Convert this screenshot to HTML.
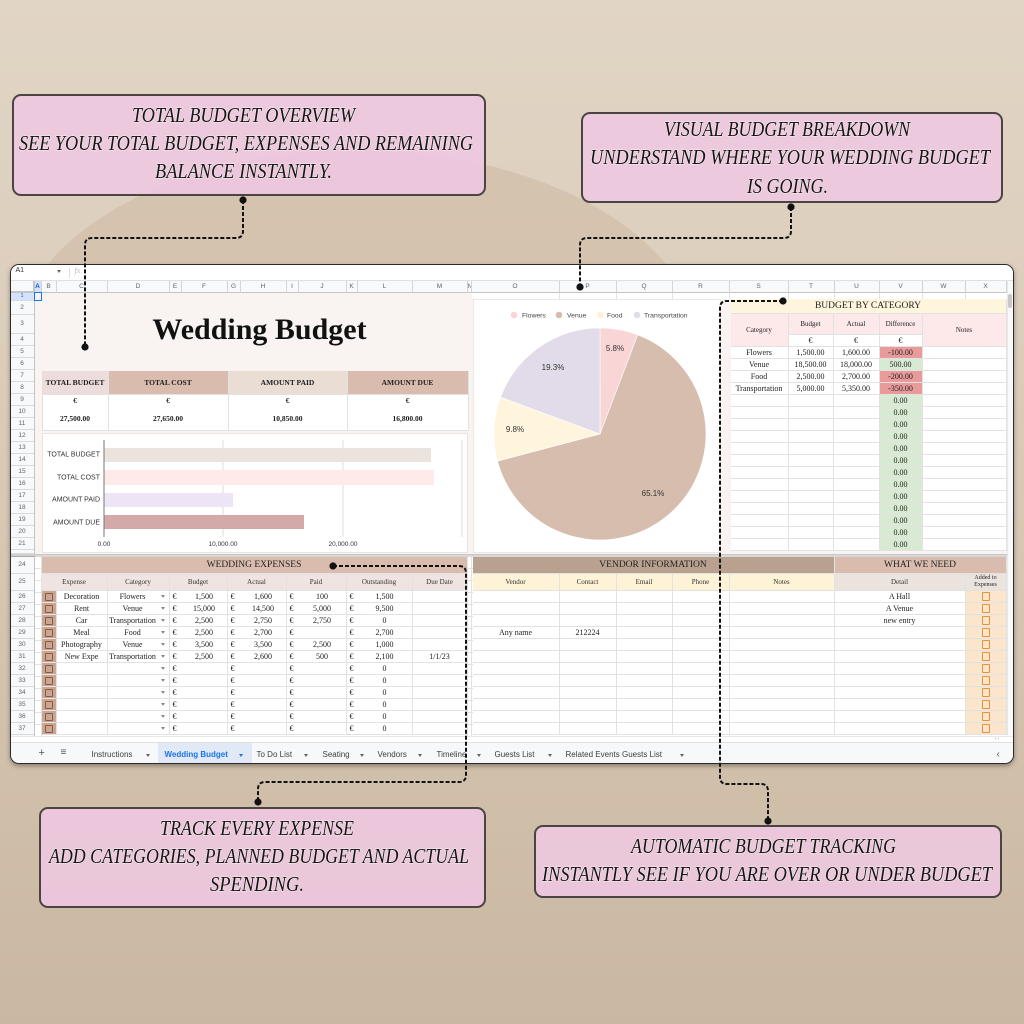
<!DOCTYPE html>
<html><head><meta charset="utf-8">
<style>
*{box-sizing:border-box;margin:0;padding:0}
html,body{width:1024px;height:1024px;overflow:hidden}
body{position:relative;background:linear-gradient(180deg,#e1d5c5 0%,#dccdbb 35%,#d2c1ac 70%,#c9b7a1 100%);font-family:"Liberation Sans",sans-serif}
.arch{position:absolute;left:12px;top:150px;width:690px;height:620px;border-radius:345px 345px 0 0/205px 205px 0 0;background:linear-gradient(180deg,rgba(170,135,100,.20),rgba(170,135,100,.12) 40%,rgba(170,135,100,0) 97%)}
.sheet{position:absolute;left:10px;top:264px;width:1004px;height:500px;border:1.5px solid #2d2a2a;border-radius:9px;overflow:hidden;background:#fff;box-shadow:0 2px 5px rgba(0,0,0,.35)}
.in{position:absolute;left:-11.5px;top:-265.5px;width:1024px;height:1024px}
.a{position:absolute}
.colh{position:absolute;left:35px;top:281px;height:12px;display:flex;background:#f8f9fa;border-bottom:1px solid #c4c4c4}
.colh div{height:12px;border-right:1px solid #d4d4d4;font-size:6.5px;line-height:12px;text-align:center;color:#5f6368;overflow:hidden}
.rowh{position:absolute;left:11px;top:293px;width:24px;display:flex;flex-direction:column;background:#f8f9fa;border-right:1px solid #c4c4c4}
.rowh div{height:12px;border-bottom:1px solid #dadada;font-size:6.5px;line-height:11px;text-align:center;color:#5f6368;overflow:hidden;flex:none}
.g{position:absolute;display:grid}
.g>div{border-right:1px solid #e2e2e2;border-bottom:1px solid #e2e2e2;font:8px/11px "Liberation Serif",serif;color:#222;text-align:center;white-space:nowrap;overflow:hidden;position:relative}
.g>div.eu{text-align:left;padding-left:3px;border-right:none}
.g>div.t{font-size:9.5px;line-height:16px;color:#222}
.g>div.h{font-size:7px;line-height:16px;color:#333}
.sv span{position:absolute;left:0;right:0;text-align:center;font-weight:bold;font-size:7.5px;line-height:11px}
.ck{background:#c9a592}
.ck i{position:absolute;left:3px;top:2px;width:8px;height:8px;border:1.5px solid #8a5a46;border-radius:1px}
.oc{background:#fce5cd}
.oc i{position:absolute;left:16px;top:1.5px;width:8.5px;height:8.5px;border:1.5px solid #e69138;border-radius:1px}
.dd{padding-right:11px}
.dd b{position:absolute;right:4px;top:4.5px;width:0;height:0;border-left:2.5px solid transparent;border-right:2.5px solid transparent;border-top:3px solid #8a8a8a}
.red{background:#e99a9a}
.grn{background:#d9ead3}
.tab{position:absolute;top:750px;font-size:8px;color:#3c4043;line-height:10px;white-space:nowrap}
.tri{position:absolute;top:754px;width:0;height:0;border-left:2.5px solid transparent;border-right:2.5px solid transparent;border-top:3px solid #5f6368}
</style></head><body>
<div class="arch"></div>

<div class="sheet"><div class="in">
  <div class="a" style="left:11px;top:265px;width:1002px;height:16px;background:#fff;border-bottom:1px solid #e0e0e0"></div>
  <div class="a" style="left:16px;top:267px;font-size:7px;color:#333">A1</div>
  <div class="a" style="left:57px;top:270px;width:0;height:0;border-left:2.5px solid transparent;border-right:2.5px solid transparent;border-top:3px solid #666"></div>
  <div class="a" style="left:69px;top:268px;width:1px;height:10px;background:#ddd"></div>
  <div class="a" style="left:75px;top:266px;font:italic 8px 'Liberation Serif',serif;color:#bbb">fx</div>

  <div class="a" style="left:11px;top:281px;width:24px;height:12px;background:#f8f9fa;border-right:2px solid #c4c4c4;border-bottom:2px solid #c4c4c4"></div>
  <div class="colh">
    <div style="width:7px;background:#d3e3fd;color:#0b57d0;font-weight:bold">A</div><div style="width:15px">B</div><div style="width:51px">C</div><div style="width:62px">D</div><div style="width:12px">E</div><div style="width:46px">F</div><div style="width:13px">G</div><div style="width:46px">H</div><div style="width:12px">I</div><div style="width:48px">J</div><div style="width:11px">K</div><div style="width:55px">L</div><div style="width:55px">M</div><div style="width:4px">N</div><div style="width:88px">O</div><div style="width:57px">P</div><div style="width:56px">Q</div><div style="width:57px">R</div><div style="width:59px">S</div><div style="width:46px">T</div><div style="width:45px">U</div><div style="width:43px">V</div><div style="width:43px">W</div><div style="width:41px">X</div>
  </div>
  <div class="rowh">
    <div style="height:8px;background:#d3e3fd;font-size:5px;line-height:7px;color:#0b57d0">1</div>
    <div style="height:14px;line-height:13px">2</div>
    <div style="height:19px;line-height:18px">3</div>
    <div>4</div><div>5</div><div>6</div><div>7</div><div>8</div><div>9</div><div>10</div><div>11</div><div>12</div><div>13</div><div>14</div><div>15</div><div>16</div><div>17</div><div>18</div><div>19</div><div>20</div><div>21</div>
    <div style="height:4px;font-size:0"></div>
    <div style="height:3px;background:#d0d0d0;border-bottom:1px solid #aaa"></div>
    <div style="height:17px;line-height:16px">24</div>
    <div style="height:17px;line-height:16px">25</div>
    <div>26</div><div>27</div><div>28</div><div>29</div><div>30</div><div>31</div><div>32</div><div>33</div><div>34</div><div>35</div><div>36</div><div>37</div><div>38</div>
  </div>

  <div class="a" style="left:35px;top:293px;width:972px;height:443px;background:repeating-linear-gradient(to bottom,transparent 0 11px,#e2e2e2 11px 12px)"></div>
  <div class="a" style="left:41px;top:293px;width:1px;height:443px;background:#e2e2e2"></div>
  <div class="a" style="left:467px;top:293px;width:1px;height:443px;background:#e2e2e2"></div>
  <div class="a" style="left:471px;top:293px;width:1px;height:443px;background:#e2e2e2"></div>
  <div class="a" style="left:559px;top:293px;width:1px;height:8px;background:#e2e2e2"></div>
  <div class="a" style="left:616px;top:293px;width:1px;height:8px;background:#e2e2e2"></div>
  <div class="a" style="left:672px;top:293px;width:1px;height:8px;background:#e2e2e2"></div>
  <div class="a" style="left:729px;top:293px;width:1px;height:8px;background:#e2e2e2"></div>
  <div class="a" style="left:788px;top:293px;width:1px;height:8px;background:#e2e2e2"></div>
  <div class="a" style="left:834px;top:293px;width:1px;height:8px;background:#e2e2e2"></div>
  <div class="a" style="left:879px;top:293px;width:1px;height:8px;background:#e2e2e2"></div>
  <div class="a" style="left:922px;top:293px;width:1px;height:8px;background:#e2e2e2"></div>
  <div class="a" style="left:965px;top:293px;width:1px;height:8px;background:#e2e2e2"></div>

  <div class="a" style="left:35px;top:293px;width:437px;height:262px;background:#f9f4f2"></div>
  <div class="a" style="left:472px;top:299px;width:535px;height:256px;background:#f9f4f2"></div>
  <div class="a" style="left:35px;top:554px;width:972px;height:3px;background:#d8d8d8;border-top:1px solid #c8c8c8"></div>

  <div class="a" style="left:34px;top:292px;width:8px;height:9px;border:1.5px solid #1a73e8"></div>

  <div class="a" style="left:60px;top:313px;width:400px;text-align:center;font:bold 30px/34px 'Liberation Serif',serif;color:#111">Wedding Budget</div>

  <div class="g sv" style="left:42px;top:371px;width:426px;grid-template-columns:66px 120px 119px 121px;grid-template-rows:24px 36px;border-left:1px solid #e6dedb">
    <div style="background:#ecdcdb;font-weight:bold;font-size:7.5px;line-height:23px">TOTAL BUDGET</div>
    <div style="background:#d9bcae;font-weight:bold;font-size:7.5px;line-height:23px">TOTAL COST</div>
    <div style="background:#e9ddd4;font-weight:bold;font-size:7.5px;line-height:23px">AMOUNT PAID</div>
    <div style="background:#d9bcae;font-weight:bold;font-size:7.5px;line-height:23px">AMOUNT DUE</div>
    <div style="background:#fff"><span style="top:0.5px">€</span><span style="top:18.5px">27,500.00</span></div>
    <div style="background:#fff"><span style="top:0.5px">€</span><span style="top:18.5px">27,650.00</span></div>
    <div style="background:#fff"><span style="top:0.5px">€</span><span style="top:18.5px">10,850.00</span></div>
    <div style="background:#fff"><span style="top:0.5px">€</span><span style="top:18.5px">16,800.00</span></div>
  </div>

  <div class="a" style="left:42px;top:433px;width:426px;height:120px;background:#fff;border:1px solid #ebe3df"></div>
  <div class="a" style="left:473px;top:299px;width:248px;height:254px;background:#fff;border:1px solid #eee6e2"></div>

  <div class="g" style="left:731px;top:299px;width:276px;grid-template-columns:58px 45px 46px 43px 84px;grid-template-rows:15px 21px 12px repeat(17,12px);background:#fff">
    <div class="t" style="grid-column:1/6;grid-row:1;background:#fff4dc;line-height:14px;font-size:9.5px">BUDGET BY CATEGORY</div>
    <div style="grid-column:1;grid-row:2/4;background:#fde9e9;font-size:7px;line-height:32px">Category</div>
    <div style="grid-column:2;grid-row:2;background:#fde9e9;font-size:7px;line-height:20px">Budget</div>
    <div style="grid-column:3;grid-row:2;background:#fde9e9;font-size:7px;line-height:20px">Actual</div>
    <div style="grid-column:4;grid-row:2;background:#fde9e9;font-size:7px;line-height:20px">Difference</div>
    <div style="grid-column:5;grid-row:2/4;background:#fde9e9;font-size:7px;line-height:32px">Notes</div>
    <div style="grid-column:2;grid-row:3">€</div>
    <div style="grid-column:3;grid-row:3">€</div>
    <div style="grid-column:4;grid-row:3">€</div>
    <div>Flowers</div><div>1,500.00</div><div>1,600.00</div><div class="red">-100.00</div><div></div>
    <div>Venue</div><div>18,500.00</div><div>18,000.00</div><div class="grn">500.00</div><div></div>
    <div>Food</div><div>2,500.00</div><div>2,700.00</div><div class="red">-200.00</div><div></div>
    <div>Transportation</div><div>5,000.00</div><div>5,350.00</div><div class="red">-350.00</div><div></div>
    <div></div><div></div><div></div><div class="grn">0.00</div><div></div>
    <div></div><div></div><div></div><div class="grn">0.00</div><div></div>
    <div></div><div></div><div></div><div class="grn">0.00</div><div></div>
    <div></div><div></div><div></div><div class="grn">0.00</div><div></div>
    <div></div><div></div><div></div><div class="grn">0.00</div><div></div>
    <div></div><div></div><div></div><div class="grn">0.00</div><div></div>
    <div></div><div></div><div></div><div class="grn">0.00</div><div></div>
    <div></div><div></div><div></div><div class="grn">0.00</div><div></div>
    <div></div><div></div><div></div><div class="grn">0.00</div><div></div>
    <div></div><div></div><div></div><div class="grn">0.00</div><div></div>
    <div></div><div></div><div></div><div class="grn">0.00</div><div></div>
    <div></div><div></div><div></div><div class="grn">0.00</div><div></div>
    <div></div><div></div><div></div><div class="grn">0.00</div><div></div>
  </div>

  <div class="g" style="left:42px;top:557px;width:426px;grid-template-columns:15px 51px 62px 12px 46px 13px 46px 12px 48px 11px 55px 55px;grid-template-rows:17px 17px repeat(12,12px);background:#fff">
    <div class="t" style="grid-column:1/13;background:#d9bcae">WEDDING EXPENSES</div>
    <div class="h" style="grid-column:1/3;background:#efe4e1">Expense</div>
    <div class="h" style="background:#efe4e1">Category</div>
    <div class="h" style="grid-column:4/6;background:#efe4e1">Budget</div>
    <div class="h" style="grid-column:6/8;background:#efe4e1">Actual</div>
    <div class="h" style="grid-column:8/10;background:#efe4e1">Paid</div>
    <div class="h" style="grid-column:10/12;background:#efe4e1">Outstanding</div>
    <div class="h" style="background:#efe4e1">Due Date</div>

    <div class="ck"><i></i></div><div>Decoration</div><div class="dd">Flowers<b></b></div><div class="eu">€</div><div>1,500</div><div class="eu">€</div><div>1,600</div><div class="eu">€</div><div>100</div><div class="eu">€</div><div>1,500</div><div></div>
    <div class="ck"><i></i></div><div>Rent</div><div class="dd">Venue<b></b></div><div class="eu">€</div><div>15,000</div><div class="eu">€</div><div>14,500</div><div class="eu">€</div><div>5,000</div><div class="eu">€</div><div>9,500</div><div></div>
    <div class="ck"><i></i></div><div>Car</div><div class="dd">Transportation<b></b></div><div class="eu">€</div><div>2,500</div><div class="eu">€</div><div>2,750</div><div class="eu">€</div><div>2,750</div><div class="eu">€</div><div>0</div><div></div>
    <div class="ck"><i></i></div><div>Meal</div><div class="dd">Food<b></b></div><div class="eu">€</div><div>2,500</div><div class="eu">€</div><div>2,700</div><div class="eu">€</div><div></div><div class="eu">€</div><div>2,700</div><div></div>
    <div class="ck"><i></i></div><div>Photography</div><div class="dd">Venue<b></b></div><div class="eu">€</div><div>3,500</div><div class="eu">€</div><div>3,500</div><div class="eu">€</div><div>2,500</div><div class="eu">€</div><div>1,000</div><div></div>
    <div class="ck"><i></i></div><div>New Expe</div><div class="dd">Transportation<b></b></div><div class="eu">€</div><div>2,500</div><div class="eu">€</div><div>2,600</div><div class="eu">€</div><div>500</div><div class="eu">€</div><div>2,100</div><div>1/1/23</div>
    <div class="ck"><i></i></div><div></div><div class="dd"><b></b></div><div class="eu">€</div><div></div><div class="eu">€</div><div></div><div class="eu">€</div><div></div><div class="eu">€</div><div>0</div><div></div>
    <div class="ck"><i></i></div><div></div><div class="dd"><b></b></div><div class="eu">€</div><div></div><div class="eu">€</div><div></div><div class="eu">€</div><div></div><div class="eu">€</div><div>0</div><div></div>
    <div class="ck"><i></i></div><div></div><div class="dd"><b></b></div><div class="eu">€</div><div></div><div class="eu">€</div><div></div><div class="eu">€</div><div></div><div class="eu">€</div><div>0</div><div></div>
    <div class="ck"><i></i></div><div></div><div class="dd"><b></b></div><div class="eu">€</div><div></div><div class="eu">€</div><div></div><div class="eu">€</div><div></div><div class="eu">€</div><div>0</div><div></div>
    <div class="ck"><i></i></div><div></div><div class="dd"><b></b></div><div class="eu">€</div><div></div><div class="eu">€</div><div></div><div class="eu">€</div><div></div><div class="eu">€</div><div>0</div><div></div>
    <div class="ck"><i></i></div><div></div><div class="dd"><b></b></div><div class="eu">€</div><div></div><div class="eu">€</div><div></div><div class="eu">€</div><div></div><div class="eu">€</div><div>0</div><div></div>
  </div>

  <div class="g" style="left:473px;top:557px;width:534px;grid-template-columns:87px 57px 56px 57px 105px 131px 41px;grid-template-rows:17px 17px repeat(12,12px);background:#fff">
    <div class="t" style="grid-column:1/6;background:#b9a18f">VENDOR INFORMATION</div>
    <div class="t" style="grid-column:6/8;background:#d9bcae">WHAT WE NEED</div>
    <div class="h" style="background:#fff3d7">Vendor</div>
    <div class="h" style="background:#fff3d7">Contact</div>
    <div class="h" style="background:#fff3d7">Email</div>
    <div class="h" style="background:#fff3d7">Phone</div>
    <div class="h" style="background:#fff3d7">Notes</div>
    <div class="h" style="background:#ebe3dd">Detail</div>
    <div style="background:#ebe3dd;font-size:6px;line-height:7px;padding-top:1px">Added to<br>Expenses</div>

    <div></div><div></div><div></div><div></div><div></div><div>A Hall</div><div class="oc"><i></i></div>
    <div></div><div></div><div></div><div></div><div></div><div>A Venue</div><div class="oc"><i></i></div>
    <div></div><div></div><div></div><div></div><div></div><div>new entry</div><div class="oc"><i></i></div>
    <div>Any name</div><div>212224</div><div></div><div></div><div></div><div></div><div class="oc"><i></i></div>
    <div></div><div></div><div></div><div></div><div></div><div></div><div class="oc"><i></i></div>
    <div></div><div></div><div></div><div></div><div></div><div></div><div class="oc"><i></i></div>
    <div></div><div></div><div></div><div></div><div></div><div></div><div class="oc"><i></i></div>
    <div></div><div></div><div></div><div></div><div></div><div></div><div class="oc"><i></i></div>
    <div></div><div></div><div></div><div></div><div></div><div></div><div class="oc"><i></i></div>
    <div></div><div></div><div></div><div></div><div></div><div></div><div class="oc"><i></i></div>
    <div></div><div></div><div></div><div></div><div></div><div></div><div class="oc"><i></i></div>
    <div></div><div></div><div></div><div></div><div></div><div></div><div class="oc"><i></i></div>
  </div>

  <svg class="a" style="left:0;top:0" width="1024" height="1024" viewBox="0 0 1024 1024">
    <g stroke="#dcdcdc" stroke-width="1">
      <line x1="223" y1="440" x2="223" y2="537"/>
      <line x1="343" y1="440" x2="343" y2="537"/>
      <line x1="462" y1="440" x2="462" y2="537"/>
    </g>
    <rect x="104" y="448" width="327" height="14" fill="#ebe3dd"/>
    <rect x="104" y="470" width="330" height="15" fill="#fdeae9"/>
    <rect x="104" y="493" width="129" height="14" fill="#ede5f6"/>
    <rect x="104" y="515" width="200" height="14" fill="#d3aaa8"/>
    <line x1="104" y1="440" x2="104" y2="537" stroke="#777" stroke-width="1"/>
    <g font-family="Liberation Sans, sans-serif" font-size="7" fill="#333" text-anchor="end">
      <text x="100" y="456.5">TOTAL BUDGET</text>
      <text x="100" y="479.5">TOTAL COST</text>
      <text x="100" y="501.5">AMOUNT PAID</text>
      <text x="100" y="524.5">AMOUNT DUE</text>
    </g>
    <g font-family="Liberation Sans, sans-serif" font-size="6.5" fill="#333" text-anchor="middle">
      <text x="104" y="546">0.00</text>
      <text x="223" y="546">10,000.00</text>
      <text x="343" y="546">20,000.00</text>
    </g>
    <g stroke="#fff" stroke-width="0.6">
      <path d="M600 434 L600 328 A106 106 0 0 1 637.7 334.9 Z" fill="#f9d6d5"/>
      <path d="M600 434 L637.7 334.9 A106 106 0 1 1 497.5 461.1 Z" fill="#d7bdae"/>
      <path d="M600 434 L497.5 461.1 A106 106 0 0 1 500.6 397.2 Z" fill="#fff4dc"/>
      <path d="M600 434 L500.6 397.2 A106 106 0 0 1 600 328 Z" fill="#e2dcea"/>
    </g>
    <g font-family="Liberation Sans, sans-serif" font-size="8" fill="#333" text-anchor="middle">
      <text x="615" y="351">5.8%</text>
      <text x="653" y="496">65.1%</text>
      <text x="515" y="432">9.8%</text>
      <text x="553" y="370">19.3%</text>
    </g>
    <circle cx="514" cy="315" r="3.3" fill="#f9d6d5"/>
    <circle cx="559" cy="315" r="3.3" fill="#d7bdae"/>
    <circle cx="600.5" cy="315" r="3.3" fill="#fff1d6"/>
    <circle cx="637" cy="315" r="3.3" fill="#e2dcea"/>
    <g font-family="Liberation Sans, sans-serif" font-size="6.8" fill="#444">
      <text x="522" y="317.5">Flowers</text>
      <text x="567" y="317.5">Venue</text>
      <text x="607" y="317.5">Food</text>
      <text x="644" y="317.5">Transportation</text>
    </g>
  </svg>

  <div class="a" style="left:1007px;top:281px;width:6px;height:455px;background:#f8f9fa;border-left:1px solid #e8e8e8"></div>
  <div class="a" style="left:1008px;top:294px;width:4px;height:14px;background:#c8c8c8;border-radius:2px"></div>
  <div class="a" style="left:11px;top:736px;width:1002px;height:6px;background:#fff;border-top:1px solid #e8e8e8"></div>
  <div class="a" style="left:995px;top:736px;font-size:5px;color:#999">‹ ›</div>
  <div class="a" style="left:11px;top:742px;width:1002px;height:22px;background:#f7f8f9;border-top:1px solid #e0e0e0"></div>
  <div class="a" style="left:158px;top:743px;width:94px;height:21px;background:#e1e9f7"></div>
  <div class="tab" style="left:39px;top:748px;font-size:11px;color:#555">+</div>
  <div class="tab" style="left:61px;top:748px;font-size:10px;color:#555">≡</div>
  <div class="tab" style="left:92px">Instructions</div><div class="tri" style="left:146px"></div>
  <div class="tab" style="left:165px;color:#1a73e8;font-weight:bold">Wedding Budget</div><div class="tri" style="left:239px;border-top-color:#1a73e8"></div>
  <div class="tab" style="left:257px">To Do List</div><div class="tri" style="left:304px"></div>
  <div class="tab" style="left:323px">Seating</div><div class="tri" style="left:360px"></div>
  <div class="tab" style="left:378px">Vendors</div><div class="tri" style="left:418px"></div>
  <div class="tab" style="left:437px">Timeline</div><div class="tri" style="left:477px"></div>
  <div class="tab" style="left:495px">Guests List</div><div class="tri" style="left:548px"></div>
  <div class="tab" style="left:566px">Related Events Guests List</div><div class="tri" style="left:680px"></div>
  <div class="tab" style="left:997px;font-size:10px;color:#555">‹</div>
</div></div>

<svg class="a" style="left:0;top:0" width="1024" height="1024" viewBox="0 0 1024 1024">
  <g fill="rgba(238,200,224,0.9)" stroke="#4a4444" stroke-width="2">
    <rect x="13" y="95" width="472" height="100" rx="8"/>
    <rect x="582" y="113" width="420" height="89" rx="8"/>
    <rect x="40" y="808" width="445" height="99" rx="8"/>
    <rect x="535" y="826" width="466" height="71" rx="8"/>
  </g>
  <g font-family="Liberation Serif, serif" font-style="italic" font-size="21" fill="#151515" stroke="rgba(255,255,255,0.55)" stroke-width="1.2" paint-order="stroke">
    <text x="132" y="122" textLength="223" lengthAdjust="spacingAndGlyphs">TOTAL BUDGET OVERVIEW</text>
    <text x="19" y="150" textLength="454" lengthAdjust="spacingAndGlyphs">SEE YOUR TOTAL BUDGET, EXPENSES AND REMAINING</text>
    <text x="155" y="178" textLength="177" lengthAdjust="spacingAndGlyphs">BALANCE INSTANTLY.</text>
    <text x="664" y="136" textLength="246" lengthAdjust="spacingAndGlyphs">VISUAL BUDGET BREAKDOWN</text>
    <text x="590" y="164" textLength="400" lengthAdjust="spacingAndGlyphs">UNDERSTAND WHERE YOUR WEDDING BUDGET</text>
    <text x="747" y="193" textLength="81" lengthAdjust="spacingAndGlyphs">IS GOING.</text>
    <text x="160" y="835" textLength="194" lengthAdjust="spacingAndGlyphs">TRACK EVERY EXPENSE</text>
    <text x="49" y="863" textLength="420" lengthAdjust="spacingAndGlyphs">ADD CATEGORIES, PLANNED BUDGET AND ACTUAL</text>
    <text x="210" y="891" textLength="94" lengthAdjust="spacingAndGlyphs">SPENDING.</text>
    <text x="631" y="853" textLength="265" lengthAdjust="spacingAndGlyphs">AUTOMATIC BUDGET TRACKING</text>
    <text x="542" y="881" textLength="450" lengthAdjust="spacingAndGlyphs">INSTANTLY SEE IF YOU ARE OVER OR UNDER BUDGET</text>
  </g>
  <g fill="none" stroke="#111" stroke-width="2" stroke-dasharray="4 2">
    <path d="M243 200 V231 Q243 238 236 238 H92 Q85 238 85 245 V347"/>
    <path d="M791 207 V231 Q791 238 784 238 H587 Q580 238 580 245 V287"/>
    <path d="M783 301 H727 Q720 301 720 308 V777 Q720 784 727 784 H761 Q768 784 768 791 V821"/>
    <path d="M333 566 H459 Q466 566 466 573 V775 Q466 782 459 782 H265 Q258 782 258 789 V802"/>
  </g>
  <g fill="#111">
    <circle cx="243" cy="200" r="3.6"/>
    <circle cx="85" cy="347" r="3.6"/>
    <circle cx="791" cy="207" r="3.6"/>
    <circle cx="580" cy="287" r="3.6"/>
    <circle cx="783" cy="301" r="3.6"/>
    <circle cx="768" cy="821" r="3.6"/>
    <circle cx="333" cy="566" r="3.6"/>
    <circle cx="258" cy="802" r="3.6"/>
  </g>
</svg>
</body></html>
